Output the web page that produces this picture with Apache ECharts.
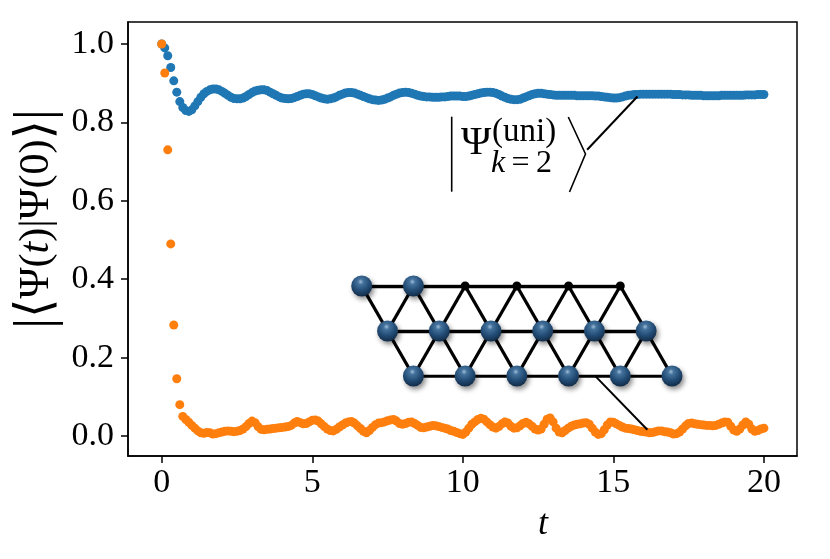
<!DOCTYPE html>
<html><head><meta charset="utf-8">
<script src="https://cdn.jsdelivr.net/npm/echarts/dist/echarts.min.js"></script>
<style>html,body{margin:0;padding:0;background:#fff}#c{width:830px;height:559px}</style>
</head><body><div id="c"></div>
<script>
// time grid step (t = index * tStep, 0..20)
const tStep = 0.1;
// |<Psi(t)|Psi(0)>| for the uniform k=2 state (blue)
const blueValues = [
 1.0,0.99,0.97,0.94,0.906,0.877,0.853,0.838,0.830,0.828,
 0.832,0.842,0.853,0.864,0.873,0.879,0.883,0.885,0.885,0.883,
 0.879,0.874,0.869,0.864,0.861,0.860,0.860,0.862,0.866,0.871,
 0.876,0.880,0.882,0.883,0.883,0.881,0.877,0.873,0.869,0.865,
 0.862,0.861,0.860,0.861,0.863,0.866,0.869,0.872,0.873,0.873,
 0.871,0.868,0.865,0.862,0.860,0.859,0.860,0.862,0.865,0.869,
 0.872,0.875,0.876,0.876,0.875,0.872,0.869,0.866,0.863,0.860,
 0.858,0.857,0.856,0.857,0.859,0.862,0.865,0.869,0.872,0.875,
 0.876,0.877,0.876,0.874,0.872,0.869,0.867,0.866,0.865,0.865,
 0.864,0.864,0.864,0.865,0.865,0.866,0.867,0.867,0.867,0.867,
 0.866,0.866,0.867,0.869,0.871,0.873,0.875,0.876,0.877,0.877,
 0.876,0.874,0.871,0.867,0.864,0.861,0.859,0.858,0.858,0.859,
 0.862,0.865,0.868,0.871,0.873,0.874,0.874,0.873,0.872,0.871,
 0.870,0.869,0.869,0.869,0.869,0.869,0.869,0.869,0.868,0.868,
 0.868,0.868,0.868,0.868,0.867,0.867,0.866,0.865,0.864,0.863,
 0.862,0.862,0.863,0.865,0.867,0.869,0.870,0.871,0.871,0.872,
 0.872,0.872,0.872,0.872,0.872,0.872,0.872,0.872,0.872,0.872,
 0.871,0.871,0.871,0.870,0.870,0.870,0.869,0.869,0.869,0.869,
 0.868,0.868,0.868,0.868,0.868,0.868,0.869,0.869,0.869,0.869,
 0.869,0.869,0.869,0.869,0.870,0.870,0.870,0.870,0.871,0.871,
 0.871
];
// other state (orange)
const orangeValues = [
 1.0,0.926,0.730,0.490,0.283,0.146,0.080,0.050,0.042,0.035,
 0.027,0.020,0.013,0.008,0.007,0.009,0.008,0.005,0.006,0.008,
 0.010,0.012,0.013,0.012,0.011,0.012,0.014,0.018,0.024,0.032,
 0.038,0.034,0.024,0.017,0.016,0.017,0.018,0.019,0.020,0.021,
 0.022,0.023,0.024,0.027,0.033,0.037,0.034,0.031,0.032,0.036,
 0.040,0.041,0.038,0.031,0.024,0.018,0.014,0.013,0.017,0.023,
 0.028,0.033,0.036,0.037,0.033,0.026,0.019,0.012,0.008,0.014,
 0.022,0.029,0.033,0.034,0.036,0.039,0.041,0.042,0.038,0.032,
 0.030,0.032,0.035,0.036,0.032,0.027,0.022,0.021,0.023,0.025,
 0.027,0.026,0.024,0.022,0.020,0.018,0.014,0.012,0.009,0.006,
 0.004,0.010,0.020,0.030,0.036,0.042,0.045,0.043,0.036,0.029,
 0.023,0.020,0.024,0.031,0.036,0.033,0.025,0.020,0.021,0.026,
 0.032,0.035,0.031,0.025,0.018,0.015,0.018,0.030,0.043,0.046,
 0.036,0.020,0.010,0.008,0.014,0.020,0.025,0.028,0.030,0.031,
 0.033,0.034,0.030,0.020,0.010,0.004,0.006,0.016,0.028,0.036,
 0.035,0.031,0.027,0.023,0.020,0.019,0.018,0.016,0.014,0.012,
 0.011,0.010,0.008,0.009,0.011,0.013,0.013,0.011,0.010,0.008,
 0.005,0.006,0.010,0.018,0.026,0.032,0.033,0.031,0.030,0.029,
 0.028,0.027,0.027,0.026,0.027,0.030,0.033,0.036,0.035,0.025,
 0.015,0.012,0.018,0.028,0.036,0.030,0.018,0.012,0.014,0.018,
 0.020
];
const xTicks = [0, 5, 10, 15, 20];
const yTicks = [0.0, 0.2, 0.4, 0.6, 0.8, 1.0];
// annotation pointer lines (data coordinates)
const pointerKet = [[14.13, 0.730], [15.80, 0.866]];
const pointerLattice = [[14.41, 0.152], [16.13, 0.016]];
// lattice inset (column u, row v) — occupied sites and empty sites
const latticeBalls = [[0,0],[1,0],[0.5,1],[1.5,1],[2.5,1],[3.5,1],[4.5,1],[5.5,1],[1,2],[2,2],[3,2],[4,2],[5,2],[6,2]];
const latticeDots = [[2,0],[3,0],[4,0],[5,0]];

const toPts = vals => vals.map((v, i) => [+(i * tStep).toFixed(2), v]);
const allSites = latticeBalls.concat(latticeDots);
const edges = [];
for (let a = 0; a < allSites.length; a++) {
  for (let b = a + 1; b < allSites.length; b++) {
    const dx = allSites[a][0] - allSites[b][0];
    const dy = (allSites[a][1] - allSites[b][1]) * Math.sqrt(3) / 2;
    if (Math.abs(dx * dx + dy * dy - 1) < 1e-6) edges.push({coords: [allSites[a], allSites[b]]});
  }
}

const serif = 'Liberation Serif, Times New Roman, serif';
const chart = echarts.init(document.getElementById('c'), null, {renderer: 'canvas'});
chart.setOption({
  animation: false,
  backgroundColor: '#fff',
  grid: [
    {left: 128, right: 33, top: 22, bottom: 103, containLabel: false, outerBoundsMode: 'none',
     show: true, borderColor: '#000', borderWidth: 1.5, backgroundColor: 'transparent'},
    {left: 361.7, top: 286, width: 310.3, height: 90, containLabel: false, outerBoundsMode: 'none', show: false}
  ],
  xAxis: [
    {type: 'value', gridIndex: 0, min: -1.12, max: 21.1,
     axisLine: {show: true, onZero: false, lineStyle: {color: '#000', width: 1.5}},
     axisTick: {show: true, length: 7, lineStyle: {color: '#000', width: 1.5}, customValues: xTicks},
     axisLabel: {customValues: xTicks, color: '#000', fontFamily: serif, fontSize: 34, margin: 10,
                 formatter: v => String(Math.round(v))},
     splitLine: {show: false}},
    {type: 'value', gridIndex: 1, min: 0, max: 6, show: false}
  ],
  yAxis: [
    {type: 'value', gridIndex: 0, min: -0.051, max: 1.056,
     axisLine: {show: true, onZero: false, lineStyle: {color: '#000', width: 1.5}},
     axisTick: {show: true, length: 7, lineStyle: {color: '#000', width: 1.5}, customValues: yTicks},
     axisLabel: {customValues: yTicks, color: '#000', fontFamily: serif, fontSize: 34, margin: 14,
                 formatter: v => v.toFixed(1)},
     splitLine: {show: false}},
    {type: 'value', gridIndex: 1, min: 0, max: 2, inverse: true, show: false}
  ],
  series: [
    {type: 'scatter', xAxisIndex: 0, yAxisIndex: 0, data: toPts(blueValues), symbolSize: 9,
     itemStyle: {color: '#1f77b4', opacity: 1}, z: 2},
    {type: 'scatter', xAxisIndex: 0, yAxisIndex: 0, data: toPts(orangeValues), symbolSize: 9,
     itemStyle: {color: '#ff7f0e', opacity: 1}, z: 3},
    {type: 'line', xAxisIndex: 0, yAxisIndex: 0, data: pointerKet, showSymbol: false, symbol: 'none',
     lineStyle: {color: '#000', width: 2}, z: 5},
    {type: 'line', xAxisIndex: 0, yAxisIndex: 0, data: pointerLattice, showSymbol: false, symbol: 'none',
     lineStyle: {color: '#000', width: 2}, z: 5},
    {type: 'lines', coordinateSystem: 'cartesian2d', xAxisIndex: 1, yAxisIndex: 1, data: edges,
     lineStyle: {color: '#000', width: 3.3, opacity: 1, curveness: 0}, z: 6},
    {type: 'scatter', xAxisIndex: 1, yAxisIndex: 1, data: latticeDots, symbolSize: 9,
     itemStyle: {color: '#000', opacity: 1}, z: 7},
    {type: 'scatter', xAxisIndex: 1, yAxisIndex: 1, data: latticeBalls, symbolSize: 21, z: 8,
     itemStyle: {
       opacity: 1,
       color: {type: 'radial', x: 0.45, y: 0.3, r: 0.75,
               colorStops: [{offset: 0, color: '#9fbdd8'}, {offset: 0.18, color: '#44729c'},
                            {offset: 0.55, color: '#234d76'}, {offset: 1, color: '#0f2640'}]},
       shadowColor: 'rgba(0,0,0,0.45)', shadowBlur: 5, shadowOffsetX: 2, shadowOffsetY: 3}}
  ],
  graphic: [
    {type: 'text', x: 37, y: 219, rotation: Math.PI / 2,
     style: {text: '{bar||}{ang|⟨}{n|Ψ(}{i|t}{n|)|Ψ(0)}{ang|⟩}{bar||}', align: 'center', verticalAlign: 'middle',
       rich: {
         n: {fontFamily: serif, fontSize: 42, fill: '#000'},
         i: {fontFamily: serif, fontSize: 42, fontStyle: 'italic', fill: '#000'},
         ang: {fontFamily: 'DejaVu Serif, DejaVu Sans', fontSize: 50, fill: '#000', fontWeight: 'lighter'},
         bar: {fontFamily: serif, fontSize: 54, fill: '#000'}
       }}},
    {type: 'text', x: 543, y: 525,
     style: {text: 't', fontFamily: serif, fontStyle: 'italic', fontSize: 36, fill: '#000', align: 'center', verticalAlign: 'middle'}},
    {type: 'line', shape: {x1: 451.7, y1: 116.7, x2: 451.7, y2: 191.7}, style: {stroke: '#000', lineWidth: 1.6}},
    {type: 'polyline', shape: {points: [[568.3, 117], [585.5, 154], [569.5, 192]]}, style: {stroke: '#000', lineWidth: 1.6, fill: null}},
    {type: 'text', x: 476, y: 143,
     style: {text: 'Ψ', fontFamily: serif, fontSize: 41, fill: '#000', align: 'center', verticalAlign: 'middle'}},
    {type: 'text', x: 492, y: 132,
     style: {text: '(uni)', fontFamily: serif, fontSize: 33, fill: '#000', align: 'left', verticalAlign: 'middle'}},
    {type: 'text', x: 491, y: 164,
     style: {text: '{i|k}{n|\u2009=\u20092}', align: 'left', verticalAlign: 'middle',
       rich: {i: {fontFamily: serif, fontStyle: 'italic', fontSize: 32, fill: '#000'},
              n: {fontFamily: serif, fontSize: 32, fill: '#000'}}}}
  ]
});
</script></body></html>
